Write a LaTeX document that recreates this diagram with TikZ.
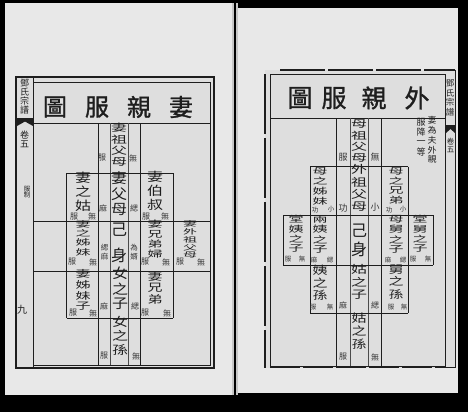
\documentclass[tikz,border=0pt]{standalone}
\usepackage{fontspec}
\newfontfamily\cjk{Noto Sans CJK TC}
\newfontfamily\cjkb{Noto Sans CJK TC}[FakeBold=1.2]
\definecolor{ink}{HTML}{1E1E1E}
\definecolor{pagebg}{HTML}{E8E8E8}
\definecolor{framebg}{HTML}{DEDEDE}
\newcommand{\vs}[3]{\scalebox{1}[#1]{\fontsize{#2}{#2}\selectfont\begin{tabular}{@{}c@{}}#3\end{tabular}}}
\begin{document}
\begin{tikzpicture}[x=1pt,y=-1pt,
  ln/.style={draw=ink,line width=0.7pt},
  lnl/.style={draw=ink!80,line width=0.5pt},
  thk/.style={draw=ink,line width=1.8pt},
  vt/.style={font=\cjk,inner sep=0pt,text=ink},
  lab/.style={font=\cjk\fontsize{8}{8}\selectfont,inner sep=0pt,text=ink!90},
  labs/.style={font=\cjk\fontsize{6.5}{6.5}\selectfont,inner sep=0pt,text=ink!90},
  ttl/.style={font=\cjkb\fontsize{24}{24}\selectfont,inner sep=0pt,text=ink},
  spn/.style={font=\cjk\fontsize{9}{9}\selectfont,inner sep=0pt,text=ink,align=center}]
\useasboundingbox (0,0) rectangle (468,412);
% scan background
\fill[black] (0,0) rectangle (468,412);
\fill[pagebg] (5,3) rectangle (233,395);
\fill[pagebg] (237,8) rectangle (458,393);
\fill[gray!45] (232,3) rectangle (238,395);
\draw[black,line width=1.2pt] (235,3) -- (235,395);
% ---------------- left page ----------------
\fill[framebg] (16,77) rectangle (214,368);
\draw[thk] (16,77) rectangle (214,368);
\draw[ln] (33,82) rectangle (210.5,365);
\draw[ln] (33,77) -- (33,368);
\draw[ln] (33,123) -- (210.5,123);
\node[ttl] (lt1) at (55,107) {圖};
\node[ttl] (lt2) at (97,107) {服};
\node[ttl] (lt3) at (139,107) {親};
\node[ttl] (lt4) at (181,107) {妻};
% left spine
\node[spn] (ls1) at (24.5,97) {鄧\\氏\\宗\\譜};
\fill[ink] (17,118) -- (33,118) -- (33,126) -- (25,121.5) -- (17,126) -- cycle;
\node[spn] (ls2) at (24.5,139) {卷\\五};
\node[font=\cjk\fontsize{6.5}{6.5}\selectfont,inner sep=0pt,text=ink,align=center] (ls3) at (27,192) {服\\制};
\node[spn,font=\cjk\fontsize{10}{10}\selectfont] (ls4) at (22,310) {九};
% left grid
\draw[ln] (98.3,123) -- (98.3,365);
\draw[lnl] (110,123) -- (110,365);
\draw[lnl] (128.3,123) -- (128.3,365);
\draw[ln] (140,123) -- (140,365);
\draw[ln] (66.7,173.3) -- (66.7,318.3);
\draw[ln] (173.3,173.3) -- (173.3,318.3);
\draw[ln] (66.7,173.3) -- (173.3,173.3);
\draw[ln] (33,221.7) -- (210.5,221.7);
\draw[ln] (33,271.7) -- (210.5,271.7);
\draw[ln] (66.7,318.3) -- (173.3,318.3);
% left texts
\node[vt] (a1) at (119,146) {\vs{0.63}{16}{妻\\祖\\父\\母}};
\node[lab] (a1l) at (102,158) {服};
\node[lab] (a1r) at (133,158) {無};
\node[vt] (a2) at (83,193) {\vs{0.78}{16}{妻\\之\\姑}};
\node[lab] (a2l) at (74,216.5) {服};
\node[lab] (a2r) at (92,216.5) {無};
\node[vt] (a3) at (119,195) {\vs{0.88}{16}{妻\\父\\母}};
\node[lab] (a3l) at (103,208) {麻};
\node[lab] (a3r) at (134,208) {緦};
\node[vt] (a4) at (155,192) {\vs{0.77}{16}{妻\\伯\\叔}};
\node[lab] (a4l) at (146,216.5) {服};
\node[lab] (a4r) at (165,216.5) {無};
\node[vt] (a5) at (83,239) {\vs{0.55}{15}{妻\\之\\姊\\妹}};
\node[lab] (a5l) at (72,262) {服};
\node[lab] (a5r) at (93,262) {無};
\node[vt] (a6) at (119,230) {\fontsize{16}{16}\selectfont 己};
\node[vt] (a7) at (119,255) {\fontsize{16}{16}\selectfont 身};
\node[lab,align=center,font=\cjk\fontsize{7.5}{9}\selectfont] (a6l) at (104.5,252) {緦\\麻};
\node[lab,align=center,font=\cjk\fontsize{7.5}{9}\selectfont] (a6r) at (134,252) {為\\婿};
\node[vt] (a8) at (155,240) {\vs{0.6}{15}{妻\\兄\\弟\\婦}};
\node[lab] (a8l) at (145,262) {服};
\node[lab] (a8r) at (166,262) {無};
\node[vt] (a9) at (190,240) {\vs{0.5}{14}{妻\\外\\祖\\父\\母}};
\node[lab] (a9l) at (180,262) {服};
\node[lab] (a9r) at (201,262) {無};
\node[vt] (a10) at (83,291) {\vs{0.64}{15}{妻\\姊\\妹\\子}};
\node[lab] (a10l) at (73,313) {服};
\node[lab] (a10r) at (93,313) {無};
\node[vt] (a11) at (120,290) {\vs{0.85}{16}{女\\之\\子}};
\node[lab] (a11l) at (104,306) {麻};
\node[lab] (a11r) at (135,306) {緦};
\node[vt] (a12) at (155,289) {\vs{0.71}{15}{妻\\兄\\弟}};
\node[lab] (a12l) at (145,313) {服};
\node[lab] (a12r) at (167,313) {無};
\node[vt] (a13) at (120,337) {\vs{0.75}{16}{女\\之\\孫}};
\node[lab] (a13l) at (104,356) {服};
\node[lab] (a13r) at (136,356) {無};
% ---------------- right page ----------------
\fill[framebg] (265,70) rectangle (455,368);
\draw[thk,dash pattern=on 45pt off 3pt] (280,70) -- (455,70);
\draw[thk,dash pattern=on 60pt off 4pt] (265,74) -- (265,368);
\draw[thk,dash pattern=on 30pt off 3pt] (270,367.5) -- (455,367.5);
\draw[ln] (455,70) -- (455,368);
\draw[ln] (270,74) rectangle (445,366);
\draw[ln] (270,118) -- (445,118);
\node[ttl,font=\cjkb\fontsize{25}{25}\selectfont] (rt1) at (300,98) {圖};
\node[ttl,font=\cjkb\fontsize{25}{25}\selectfont] (rt2) at (334,98) {服};
\node[ttl,font=\cjkb\fontsize{25}{25}\selectfont] (rt3) at (374,98) {親};
\node[ttl,font=\cjkb\fontsize{25}{25}\selectfont] (rt4) at (417,98) {外};
% right spine
\node[spn,font=\cjk\fontsize{8.5}{9.5}\selectfont] (rs1) at (450,98) {鄧\\氏\\宗\\譜};
\fill[ink] (446,125) -- (455,125) -- (455,133) -- (450.5,129) -- (446,133) -- cycle;
\node[spn,font=\cjk\fontsize{7.5}{8}\selectfont] (rs2) at (450.5,145) {卷\\五};
% note
\node[vt] (n1) at (432,141) {\vs{0.95}{9}{妻\\為\\夫\\外\\親}};
\node[vt] (n2) at (421,138) {\vs{1}{9}{服\\降\\一\\等}};
% right grid
\draw[ln] (336.7,118) -- (336.7,366);
\draw[lnl] (350,118) -- (350,366);
\draw[lnl] (368.3,118) -- (368.3,366);
\draw[ln] (381.7,118) -- (381.7,366);
\draw[ln] (310,166.7) -- (310,313.3);
\draw[ln] (408.3,166.7) -- (408.3,313.3);
\draw[ln] (283.3,215) -- (283.3,265);
\draw[ln] (433.3,215) -- (433.3,265);
\draw[ln] (310,166.7) -- (408.3,166.7);
\draw[ln] (283.3,215) -- (433.3,215);
\draw[ln] (283.3,265) -- (433.3,265);
\draw[ln] (310,313.3) -- (408.3,313.3);
% right texts
\node[vt] (b1) at (359,142) {\vs{0.62}{16}{母\\祖\\父\\母}};
\node[lab,font=\cjk\fontsize{9}{9}\selectfont] (b1l) at (343,157) {服};
\node[lab,font=\cjk\fontsize{9}{9}\selectfont] (b1r) at (375,157) {無};
\node[vt] (b2) at (320,187) {\vs{0.58}{15}{母\\之\\姊\\妹}};
\node[labs] (b2l) at (315,210.5) {功};
\node[labs] (b2r) at (331,209) {小};
\node[vt] (b3) at (359,189) {\vs{0.68}{16}{外\\祖\\父\\母}};
\node[lab,font=\cjk\fontsize{9}{9}\selectfont] (b3l) at (343,208) {功};
\node[lab,font=\cjk\fontsize{9}{9}\selectfont] (b3r) at (375,207) {小};
\node[vt] (b4) at (396,187) {\vs{0.58}{15}{母\\之\\兄\\弟}};
\node[labs] (b4l) at (389,210.5) {功};
\node[labs] (b4r) at (403,209) {小};
\node[vt] (b5) at (296,234.5) {\vs{0.58}{15}{堂\\姨\\之\\子}};
\node[labs] (b5l) at (288,259.5) {服};
\node[labs] (b5r) at (302,259.5) {無};
\node[vt] (b6) at (320,235.5) {\vs{0.6}{15}{兩\\姨\\之\\子}};
\node[labs] (b6l) at (314,259.5) {麻};
\node[labs] (b6r) at (330,259.5) {緦};
\node[vt] (b7) at (359,231) {\fontsize{16}{16}\selectfont 己};
\node[vt] (b8) at (359,249) {\fontsize{16}{16}\selectfont 身};
\node[vt] (b9) at (396,235.5) {\vs{0.6}{15}{母\\舅\\之\\子}};
\node[labs] (b9l) at (388,259.5) {麻};
\node[labs] (b9r) at (403,259.5) {緦};
\node[vt] (b10) at (420,234.5) {\vs{0.58}{15}{堂\\舅\\之\\子}};
\node[labs] (b10l) at (413,259.5) {服};
\node[labs] (b10r) at (428,259.5) {無};
\node[vt] (b11) at (320,284) {\vs{0.75}{15}{姨\\之\\孫}};
\node[labs] (b11l) at (313,307) {服};
\node[labs] (b11r) at (330,307) {無};
\node[vt] (b12) at (359,283) {\vs{0.68}{16}{姑\\之\\子}};
\node[lab] (b12l) at (343,305) {麻};
\node[lab] (b12r) at (375,305) {緦};
\node[vt] (b13) at (396,283) {\vs{0.72}{15}{舅\\之\\孫}};
\node[labs] (b13l) at (391,307) {服};
\node[labs] (b13r) at (404,307) {無};
\node[vt] (b14) at (359,332) {\vs{0.76}{15}{姑\\之\\孫}};
\node[lab] (b14l) at (343,357) {服};
\node[lab] (b14r) at (375,357) {無};
\end{tikzpicture}
\end{document}
